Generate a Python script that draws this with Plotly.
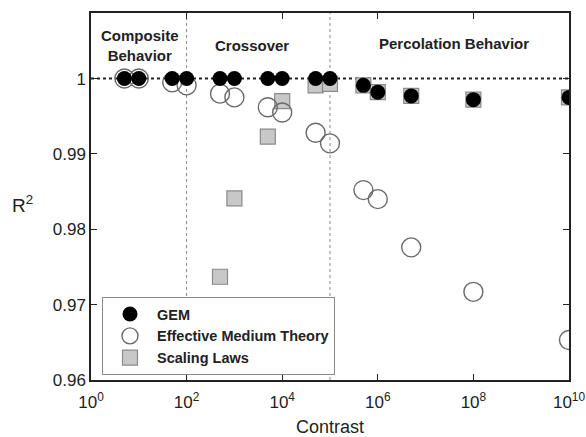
import plotly.graph_objects as go

# Data
gem_x = [5, 10, 50, 100, 500, 1e3, 5e3, 1e4, 5e4, 1e5, 5e5, 1e6, 5e6, 1e8, 1e10]
gem_y = [1.0, 1.0, 1.0, 1.0, 1.0, 1.0, 1.0, 1.0, 1.0, 1.0, 0.9991, 0.9982, 0.9977, 0.9972, 0.9975]

emt_x = [5, 10, 50, 100, 500, 1e3, 5e3, 1e4, 5e4, 1e5, 5e5, 1e6, 5e6, 1e8, 1e10]
emt_y = [1.0, 1.0, 0.9995, 0.9991, 0.9980, 0.9975, 0.9962, 0.9955, 0.9928, 0.9914,
         0.9852, 0.9840, 0.9776, 0.9717, 0.9653]

sl_x = [500, 1e3, 5e3, 1e4, 5e4, 1e5, 5e5, 1e6, 5e6, 1e8, 1e10]
sl_y = [0.9737, 0.9841, 0.9923, 0.9970, 0.9991, 0.9993, 0.9991, 0.9982, 0.9977, 0.9972, 0.9975]

x_tickvals = [1, 1e2, 1e4, 1e6, 1e8, 1e10]
x_ticktext = ["10<sup>0</sup>", "10<sup>2</sup>", "10<sup>4</sup>", "10<sup>6</sup>",
              "10<sup>8</sup>", "10<sup>10</sup>"]
y_tickvals = [0.96, 0.97, 0.98, 0.99, 1.0]
y_ticktext = ["0.96", "0.97", "0.98", "0.99", "1"]

region_labels = ["Composite<br>Behavior", "Crossover", "Percolation Behavior"]
region_x = [1.03, 3.37, 7.6]  # log10 positions
region_y = [1.00444, 1.0044, 1.0046]
boundaries = [1e2, 1e5]

fig = go.Figure()

fig.add_trace(go.Scatter(
    x=sl_x, y=sl_y, mode="markers", name="Scaling Laws", legendrank=3, legendgroup="c",
    marker=dict(symbol="square", size=15, color="#c8c8c8",
                line=dict(color="#8a8a8a", width=1.2))))
fig.add_trace(go.Scatter(
    x=emt_x, y=emt_y, mode="markers", name="Effective Medium Theory", legendrank=2,
    legendgroup="b",
    marker=dict(symbol="circle-open", size=19, color="#6a6a6a",
                line=dict(color="#6a6a6a", width=1.4))))
fig.add_trace(go.Scatter(
    x=gem_x, y=gem_y, mode="markers", name="GEM", legendrank=1, legendgroup="a",
    marker=dict(symbol="circle", size=15, color="black",
                line=dict(color="black", width=0))))

# horizontal reference line at R^2 = 1
fig.add_shape(type="line", xref="paper", yref="y", x0=0, x1=1, y0=1.0, y1=1.0,
              line=dict(color="#222", width=2, dash="dot"), layer="below")
for b in boundaries:
    fig.add_shape(type="line", xref="x", yref="paper", x0=b, x1=b, y0=0, y1=1,
                  line=dict(color="#888", width=1, dash="dot"), layer="below")

for t, lx, ly in zip(region_labels, region_x, region_y):
    fig.add_annotation(x=lx, y=ly, xref="x", yref="y", text="<b>" + t + "</b>",
                       showarrow=False, font=dict(size=15, color="#222"))

# y-axis title (horizontal, as in the reference)
fig.add_annotation(x=-0.143, y=0.48, xref="paper", yref="paper", text="R<sup>2</sup>",
                   xanchor="center", yanchor="middle",
                   showarrow=False, font=dict(size=19, color="#222"))

fig.update_xaxes(type="log", range=[0, 10], tickvals=x_tickvals, ticktext=x_ticktext,
                 ticks="inside", ticklen=6, tickcolor="#222", showline=True,
                 linecolor="#222", linewidth=1.5, mirror="ticks", showgrid=False,
                 zeroline=False, ticklabelstandoff=6, automargin=False,
                 title=dict(text="Contrast", font=dict(size=18), standoff=10),
                 tickfont=dict(size=17, color="#222"))
fig.update_yaxes(range=[0.96, 1.0087], tickvals=y_tickvals, ticktext=y_ticktext,
                 ticks="inside", ticklen=6, tickcolor="#222", showline=True,
                 linecolor="#222", linewidth=1.5, mirror="ticks", showgrid=False,
                 zeroline=False, automargin=False,
                 tickfont=dict(size=17, color="#222"))

fig.update_layout(
    width=586, height=437,
    margin=dict(l=91, r=17, t=13, b=57, autoexpand=False),
    paper_bgcolor="white", plot_bgcolor="white",
    font=dict(family="Liberation Sans, Arial, sans-serif", color="#222"),
    legend=dict(x=0.023, y=0.226, xanchor="left", yanchor="top",
                bgcolor="white", bordercolor="#888", borderwidth=1,
                font=dict(size=14.5, color="#222", weight="bold"),
                itemsizing="trace", itemwidth=44, tracegroupgap=0),
    showlegend=True,
)

fig.write_html("out.html")
